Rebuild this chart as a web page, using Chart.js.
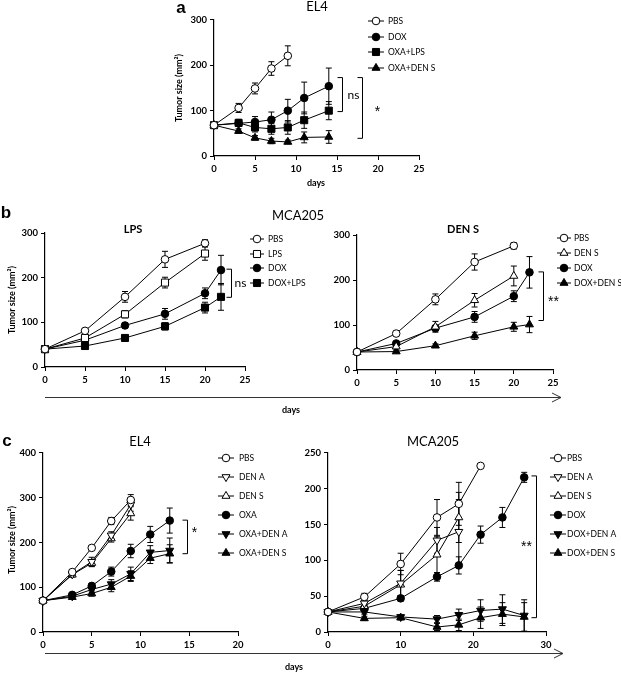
<!DOCTYPE html>
<html><head><meta charset="utf-8">
<script src="https://cdn.jsdelivr.net/npm/chart.js@4.4.1/dist/chart.umd.min.js"></script>
<style>
html,body{margin:0;padding:0;background:#fff;}
body{width:621px;height:675px;position:relative;overflow:hidden;font-family:Lato,sans-serif;}
canvas{position:absolute;}
.t{position:absolute;white-space:nowrap;color:#000;transform:translate(-50%,-50%);line-height:1;}
svg{position:absolute;left:0;top:0;}
</style></head><body>
<canvas id="cA" width="330" height="200" style="left:150px;top:0px"></canvas>
<canvas id="cB1" width="310" height="180" style="left:0px;top:220px"></canvas>
<canvas id="cB2" width="311" height="180" style="left:310px;top:220px"></canvas>
<canvas id="cC1" width="300" height="225" style="left:0px;top:435px"></canvas>
<canvas id="cC2" width="321" height="225" style="left:300px;top:435px"></canvas>
<svg width="621" height="675">
  <g stroke="#333" stroke-width="1" fill="none">
    <line x1="45" y1="397.5" x2="561" y2="397.5"/>
    <polyline points="552,393 561,397.5 552,402"/>
    <line x1="45" y1="653.5" x2="563" y2="653.5"/>
    <polyline points="554,649 563,653.5 554,658"/>
  </g>
</svg>
<div class="t" style="left:181px;top:8px;font:bold 17px Arial">a</div>
<div class="t" style="left:6px;top:213px;font:bold 17px Arial">b</div>
<div class="t" style="left:7px;top:441px;font:bold 17px Arial">c</div>
<div class="t" style="left:298px;top:215px;font:13px Lato">MCA205</div>
<div class="t" style="left:291px;top:409px;font:bold 9px Lato">days</div>
<div class="t" style="left:294px;top:666px;font:bold 9px Lato">days</div>
<script>
// ---------- Panel a : EL4 ----------
const aDays = [0, 3, 5, 7, 9, 11, 14];
const aPBS = [68, 106, 149, 193, 221];
const aPBSErr = [0, 10, 12, 15, 22];
const aDOX = [68, 72, 75, 80, 100, 128, 154];
const aDOXErr = [0, 6, 12, 17, 25, 35, 40];
const aOXALPS = [68, 73, 63, 60, 63, 79, 100];
const aOXALPSErr = [0, 8, 10, 12, 15, 18, 20];
const aOXADENS = [68, 55, 40, 33, 31, 41, 42];
const aOXADENSErr = [0, 5, 5, 6, 4, 12, 14];

// ---------- Panel b : MCA205 ----------
const bDays = [0, 5, 10, 15, 20, 22];
const b1PBS = [40, 81, 157, 241, 277];
const b1PBSErr = [0, 5, 12, 18, 8];
const b1LPS = [40, 65, 118, 189, 254];
const b1LPSErr = [0, 5, 8, 12, 15];
const b1DOX = [40, 60, 93, 119, 165, 217];
const b1DOXErr = [0, 4, 6, 12, 12, 33];
const b1DOXLPS = [40, 47, 65, 91, 133, 157];
const b1DOXLPSErr = [0, 4, 5, 8, 12, 30];

const b2PBS = [40, 81, 157, 240, 276];
const b2PBSErr = [0, 5, 12, 18, 7];
const b2DENS = [40, 52, 96, 155, 209];
const b2DENSErr = [0, 5, 12, 15, 22];
const b2DOX = [40, 59, 93, 118, 164, 217];
const b2DOXErr = [0, 4, 6, 12, 12, 35];
const b2DOXDENS = [40, 41, 54, 76, 96, 101];
const b2DOXDENSErr = [0, 3, 4, 8, 10, 18];

// ---------- Panel c : EL4 ----------
const c1Days = [0, 3, 5, 7, 9, 11, 13];
const c1PBS = [70, 134, 188, 248, 295];
const c1PBSErr = [0, 5, 5, 8, 12];
const c1DENA = [70, 129, 157, 216, 285];
const c1DENAErr = [0, 5, 10, 8, 15];
const c1DENS = [70, 128, 154, 209, 265];
const c1DENSErr = [0, 5, 8, 8, 15];
const c1OXA = [70, 83, 103, 135, 181, 218, 249];
const c1OXAErr = [0, 3, 5, 10, 15, 18, 28];
const c1OXADENA = [70, 80, 95, 107, 130, 178, 182];
const c1OXADENAErr = [0, 4, 6, 10, 15, 15, 28];
const c1OXADENS = [70, 78, 86, 100, 125, 165, 175];
const c1OXADENSErr = [0, 4, 6, 10, 12, 12, 20];

// ---------- Panel c : MCA205 ----------
const c2Days = [0, 5, 10, 15, 18, 21, 24, 27];
const c2PBS = [28, 49, 95, 160, 179, 232];
const c2PBSErr = [0, 5, 15, 25, 30, 0];
const c2DENA = [28, 40, 68, 128, 140];
const c2DENAErr = [0, 4, 18, 18, 45];
const c2DENS = [28, 36, 66, 108, 160];
const c2DENSErr = [0, 4, 20, 25, 35];
const c2DOX = [28, 33, 47, 77, 93, 136, 160, 216];
const c2DOXErr = [0, 3, 4, 6, 12, 12, 14, 7];
const c2DOXDENA = [28, 28, 21, 18, 24, 30, 32, 23];
const c2DOXDENAErr = [0, 3, 3, 5, 8, 15, 20, 22];
const c2DOXDENS = [28, 19, 20, 7, 10, 20, 25, 21];
const c2DOXDENSErr = [0, 3, 3, 5, 8, 15, 16, 20];

// ---------- helpers ----------
const MK = {
  oc:{s:'circle',rad:3.8}, fc:{s:'circle',rad:3.8,f:1},
  os:{s:'rect',rad:5}, fs:{s:'rect',rad:5,f:1},
  ot:{s:'triangle',rad:4.6}, ft:{s:'triangle',rad:4.6,f:1},
  od:{s:'triangle',rad:4.6,r:180}, fd:{s:'triangle',rad:4.6,r:180,f:1}
};
function ser(label, days, vals, err, mk) {
  const m = MK[mk];
  return {
    label, err,
    data: vals.map((v, i) => ({x: days[i], y: v})),
    borderColor:'#000', borderWidth:1, tension:0, fill:false, clip:false,
    pointStyle:m.s, pointRotation:m.r || 0, pointRadius:m.rad, pointHoverRadius:m.rad,
    pointBackgroundColor:m.f ? '#000' : '#fff', pointBorderColor:'#000', pointBorderWidth:1
  };
}

const errorBars = {
  id:'errorBars',
  beforeDatasetsDraw(chart) {
    const ctx = chart.ctx, ys = chart.scales.y;
    ctx.save(); ctx.strokeStyle = '#000'; ctx.lineWidth = 1;
    chart.data.datasets.forEach((ds, di) => {
      if (!ds.err) return;
      const meta = chart.getDatasetMeta(di);
      meta.data.forEach((pt, i) => {
        const e = ds.err[i]; if (!e) return;
        const v = ds.data[i].y;
        const y1 = ys.getPixelForValue(v + e), y2 = ys.getPixelForValue(v - e);
        ctx.beginPath();
        ctx.moveTo(pt.x, y1); ctx.lineTo(pt.x, y2);
        ctx.moveTo(pt.x - 3, y1); ctx.lineTo(pt.x + 3, y1);
        ctx.moveTo(pt.x - 3, y2); ctx.lineTo(pt.x + 3, y2);
        ctx.stroke();
      });
    });
    ctx.restore();
  }
};

const decor = {
  id:'decor',
  afterDraw(chart, args, o) {
    const ctx = chart.ctx, off = o.off, xs = chart.scales.x, ys = chart.scales.y;
    ctx.save();
    const lg = o.legend;
    chart.data.datasets.forEach((ds, i) => {
      const y = lg.rows[i] - off.y, mx = lg.x - off.x;
      ctx.strokeStyle = '#000'; ctx.lineWidth = 1;
      ctx.beginPath(); ctx.moveTo(mx - lg.half, y); ctx.lineTo(mx + lg.half, y); ctx.stroke();
      ctx.fillStyle = ds.pointBackgroundColor;
      Chart.helpers.drawPoint(ctx, {pointStyle:ds.pointStyle, rotation:ds.pointRotation, radius:ds.pointRadius, borderWidth:1}, mx, y);
      ctx.fillStyle = '#000'; ctx.font = lg.font; ctx.textAlign = 'left'; ctx.textBaseline = 'middle';
      ctx.fillText(ds.label, lg.tx - off.x, y);
    });
    (o.brackets || []).forEach(b => {
      const x = Math.round(xs.getPixelForValue(b.x)) + 0.5;
      const y1 = ys.getPixelForValue(b.y1), y2 = ys.getPixelForValue(b.y2);
      ctx.strokeStyle = '#000'; ctx.lineWidth = 1;
      ctx.beginPath(); ctx.moveTo(x - 5, y1); ctx.lineTo(x, y1); ctx.lineTo(x, y2); ctx.lineTo(x - 5, y2); ctx.stroke();
      ctx.fillStyle = '#000'; ctx.font = b.font; ctx.textAlign = 'center'; ctx.textBaseline = 'middle';
      ctx.fillText(b.label, x + b.dx, ys.getPixelForValue(b.ly));
    });
    (o.texts || []).forEach(t => {
      ctx.save(); ctx.fillStyle = '#000'; ctx.font = t.font; ctx.textAlign = 'center'; ctx.textBaseline = 'middle';
      ctx.translate(t.x - off.x, t.y - off.y); if (t.rot) ctx.rotate(t.rot);
      ctx.fillText(t.text, 0, 0); ctx.restore();
    });
    ctx.restore();
  }
};

function axis(min, max, step) {
  return {
    type:'linear', min, max,
    ticks:{stepSize:step, color:'#000', padding:3, font:{family:'Lato', size:9.5, weight:'bold'}},
    grid:{display:true, drawOnChartArea:false, drawTicks:true, tickLength:4, color:'#000', lineWidth:1},
    border:{display:true, color:'#000', width:1.2}
  };
}

function make(id, box, off, xr, yr, datasets, dec) {
  const pad = {left:5, top:5, right:5, bottom:5};
  const cfg = {
    type:'line',
    data:{datasets},
    options:{
      responsive:false, maintainAspectRatio:false, animation:false, events:[],
      layout:{padding:pad},
      scales:{x:axis(xr[0], xr[1], xr[2]), y:axis(yr[0], yr[1], yr[2])},
      plugins:{legend:{display:false}, tooltip:{enabled:false}, decor:Object.assign({off}, dec)}
    },
    plugins:[errorBars, decor]
  };
  const chart = new Chart(document.getElementById(id), cfg);
  for (let k = 0; k < 4; k++) {
    const ca = chart.chartArea;
    const p = chart.config.options.layout.padding;
    const np = {
      left: p.left + (box.l - off.x) - ca.left,
      top: p.top + (box.t - off.y) - ca.top,
      right: p.right + ca.right - (box.r - off.x),
      bottom: p.bottom + ca.bottom - (box.b - off.y)
    };
    chart.config.options.layout.padding = np;
    chart.update();
  }
  return chart;
}

const FL = '8.5px Lato';
const ST = '14px Arial';
const YT = 'Tumor size (mm\u00B2)';

make('cA', {l:214, t:20, r:419, b:156}, {x:150, y:0}, [0, 25, 5], [0, 300, 100], [
  ser('PBS', aDays, aPBS, aPBSErr, 'oc'),
  ser('DOX', aDays, aDOX, aDOXErr, 'fc'),
  ser('OXA+LPS', aDays, aOXALPS, aOXALPSErr, 'fs'),
  ser('OXA+DEN S', aDays, aOXADENS, aOXADENSErr, 'ft')
], {
  legend:{x:376, half:8, tx:388, rows:[21, 37, 52, 68], font:FL},
  brackets:[
    {x:15.6, y1:173, y2:98, label:'ns', dx:11, ly:134, font:'12px Lato'},
    {x:18, y1:173, y2:39, label:'*', dx:15, ly:96, font:ST}
  ],
  texts:[
    {text:'EL4', x:317, y:7, font:'13px Lato'},
    {text:YT, x:179, y:88, font:'bold 9px Lato', rot:-Math.PI / 2},
    {text:'days', x:316, y:183, font:'bold 9px Lato'}
  ]
});

make('cB1', {l:45, t:233, r:245, b:367}, {x:0, y:220}, [0, 25, 5], [0, 300, 100], [
  ser('PBS', bDays, b1PBS, b1PBSErr, 'oc'),
  ser('LPS', bDays, b1LPS, b1LPSErr, 'os'),
  ser('DOX', bDays, b1DOX, b1DOXErr, 'fc'),
  ser('DOX+LPS', bDays, b1DOXLPS, b1DOXLPSErr, 'fs')
], {
  legend:{x:257, half:7, tx:268, rows:[239, 254, 268, 283], font:FL},
  brackets:[{x:23.3, y1:219, y2:156, label:'ns', dx:9, ly:188, font:'12px Lato'}],
  texts:[
    {text:'LPS', x:133, y:229, font:'bold 11px Lato'},
    {text:YT, x:12, y:300, font:'bold 9px Lato', rot:-Math.PI / 2}
  ]
});

make('cB2', {l:357, t:235, r:553, b:370}, {x:310, y:220}, [0, 25, 5], [0, 300, 100], [
  ser('PBS', bDays, b2PBS, b2PBSErr, 'oc'),
  ser('DEN S', bDays, b2DENS, b2DENSErr, 'ot'),
  ser('DOX', bDays, b2DOX, b2DOXErr, 'fc'),
  ser('DOX+DEN S', bDays, b2DOXDENS, b2DOXDENSErr, 'ft')
], {
  legend:{x:564, half:7, tx:574, rows:[238, 253, 268, 283], font:FL},
  brackets:[{x:23.7, y1:218, y2:110, label:'**', dx:10, ly:150, font:ST}],
  texts:[{text:'DEN S', x:463, y:229, font:'bold 11px Lato'}]
});

make('cC1', {l:43, t:453, r:238, b:632}, {x:0, y:435}, [0, 20, 5], [0, 400, 100], [
  ser('PBS', c1Days, c1PBS, c1PBSErr, 'oc'),
  ser('DEN A', c1Days, c1DENA, c1DENAErr, 'od'),
  ser('DEN S', c1Days, c1DENS, c1DENSErr, 'ot'),
  ser('OXA', c1Days, c1OXA, c1OXAErr, 'fc'),
  ser('OXA+DEN A', c1Days, c1OXADENA, c1OXADENAErr, 'fd'),
  ser('OXA+DEN S', c1Days, c1OXADENS, c1OXADENSErr, 'ft')
], {
  legend:{x:226, half:8, tx:239, rows:[458, 477, 496, 515, 534, 553], font:FL},
  brackets:[{x:14.8, y1:250, y2:175, label:'*', dx:7, ly:220, font:ST}],
  texts:[
    {text:'EL4', x:140, y:442, font:'13px Lato'},
    {text:YT, x:12, y:540, font:'bold 9px Lato', rot:-Math.PI / 2}
  ]
});

make('cC2', {l:328, t:453, r:546, b:632}, {x:300, y:435}, [0, 30, 10], [0, 250, 50], [
  ser('PBS', c2Days, c2PBS, c2PBSErr, 'oc'),
  ser('DEN A', c2Days, c2DENA, c2DENAErr, 'od'),
  ser('DEN S', c2Days, c2DENS, c2DENSErr, 'ot'),
  ser('DOX', c2Days, c2DOX, c2DOXErr, 'fc'),
  ser('DOX+DEN A', c2Days, c2DOXDENA, c2DOXDENAErr, 'fd'),
  ser('DOX+DEN S', c2Days, c2DOXDENS, c2DOXDENSErr, 'ft')
], {
  legend:{x:558, half:8, tx:567, rows:[458, 477, 496, 515, 534, 553], font:FL},
  brackets:[{x:28.6, y1:218, y2:20, label:'**', dx:-10, ly:118, font:ST}],
  texts:[{text:'MCA205', x:433, y:442, font:'13px Lato'}]
});
</script>
</body></html>
